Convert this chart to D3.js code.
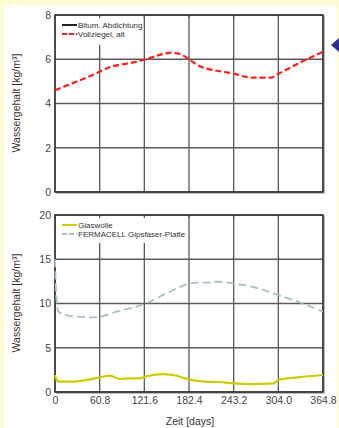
<!DOCTYPE html>
<html>
<head>
<meta charset="utf-8">
<script src="https://cdn.jsdelivr.net/npm/d3@7"></script>
<style>
  html, body { margin: 0; padding: 0; background: #fdfbd2; }
  svg { display: block; font-family: "Liberation Sans", Arial, sans-serif; }
</style>
</head>
<body>
<svg id="chart" width="339" height="428"></svg>
<script>
// x axis ticks (days)
var xTicks = [0, 60.8, 121.6, 182.4, 243.2, 304.0, 364.8];

// top chart: Vollziegel, alt
var topTicks = [0, 2, 4, 6, 8];
var topNames = ["Bitum. Abdichtung", "Vollziegel, alt"];
var vollziegelDays = [0, 15, 30, 45, 60.8, 75, 90, 105, 121.6, 135, 145, 158, 170, 182.4, 195, 205, 222, 243.2, 260, 270, 294, 304, 318, 331, 348, 364.8];
var vollziegelVals = [4.6, 4.8, 5.0, 5.2, 5.44, 5.65, 5.76, 5.85, 5.98, 6.12, 6.22, 6.3, 6.24, 6.0, 5.72, 5.59, 5.47, 5.35, 5.2, 5.17, 5.17, 5.34, 5.58, 5.81, 6.08, 6.34];

// bottom chart: Glaswolle + FERMACELL
var botTicks = [0, 5, 10, 15, 20];
var botNames = ["Glaswolle", "FERMACELL Gipsfaser-Platte"];
var fermDays = [0, 2, 5, 20, 47.6, 60.8, 84, 121.6, 152, 177, 191, 204, 222, 243, 268, 304, 331, 364.8];
var fermVals = [15, 10.5, 9.07, 8.6, 8.44, 8.5, 9.07, 9.94, 11.15, 12.1, 12.35, 12.35, 12.46, 12.28, 11.9, 10.96, 10.2, 9.07];
var glasDays = [0, 2, 5, 20, 47.6, 60.8, 75, 88, 102, 115.7, 121.6, 147, 166, 177, 190.6, 204, 222, 243, 268, 297, 306, 331, 364.8];
var glasVals = [1.92, 1.4, 1.17, 1.17, 1.43, 1.66, 1.84, 1.47, 1.54, 1.54, 1.73, 2.03, 1.84, 1.54, 1.28, 1.17, 1.13, 0.98, 0.9, 0.98, 1.43, 1.66, 1.92];

var svg = d3.select("#chart");

// white panel on the yellow page
svg.append("rect").attr("x", 4).attr("y", 5).attr("width", 333).attr("height", 423).attr("fill", "#ffffff");

var left = 55, right = 323;
var x = d3.scaleLinear().domain([0, 364.8]).range([left, right]);

function panel(top, bottom, ymax, yTicks, series, legendW, legendH) {
  var y = d3.scaleLinear().domain([0, ymax]).range([bottom, top]);
  var g = svg.append("g");

  // grid
  g.selectAll(".hg").data(yTicks).enter().append("line")
    .attr("x1", left).attr("x2", right)
    .attr("y1", function(d) { return y(d); }).attr("y2", function(d) { return y(d); })
    .attr("stroke", "#5a5a5a").attr("stroke-width", 1.3);
  g.selectAll(".vg").data(xTicks).enter().append("line")
    .attr("x1", function(d) { return x(d); }).attr("x2", function(d) { return x(d); })
    .attr("y1", top).attr("y2", bottom)
    .attr("stroke", "#5a5a5a").attr("stroke-width", 1.3);

  // legend box covers the grid
  g.append("rect").attr("x", left + 1).attr("y", top + 1)
    .attr("width", legendW).attr("height", legendH).attr("fill", "#fff");
  // small inner ticks on top edge
  g.selectAll(".tt").data(xTicks).enter().append("line")
    .attr("x1", function(d) { return x(d); }).attr("x2", function(d) { return x(d); })
    .attr("y1", top).attr("y2", top + 3)
    .attr("stroke", "#5a5a5a").attr("stroke-width", 1.3);

  // frame + light shadow
  g.append("rect").attr("x", left).attr("y", top).attr("width", right - left).attr("height", bottom - top)
    .attr("fill", "none").attr("stroke", "#333").attr("stroke-width", 1.5);
  g.append("line").attr("x1", right + 1.5).attr("x2", right + 1.5).attr("y1", top + 1).attr("y2", bottom + 1.5)
    .attr("stroke", "#bbb").attr("stroke-width", 1);
  g.append("line").attr("x1", left + 1).attr("x2", right + 1.5).attr("y1", bottom + 1.5).attr("y2", bottom + 1.5)
    .attr("stroke", "#bbb").attr("stroke-width", 1);

  // y axis labels
  var yAxis = d3.axisLeft(y).tickValues(yTicks).tickSize(0).tickPadding(4);
  var ya = g.append("g").attr("transform", "translate(" + left + ",0)").call(yAxis);
  ya.select(".domain").remove();
  ya.selectAll("text").attr("font-size", 10.5).attr("fill", "#444")
    .attr("font-family", "'Liberation Sans', Arial, sans-serif");

  // series
  series.forEach(function(s) {
    var pts = s.days.map(function(d, i) { return [d, s.vals[i]]; });
    var line = d3.line().x(function(d) { return x(d[0]); }).y(function(d) { return y(d[1]); })
      .curve(d3.curveMonotoneX);
    g.append("path").datum(pts).attr("d", line)
      .attr("fill", "none").attr("stroke", s.color).attr("stroke-width", s.width)
      .attr("stroke-dasharray", s.dash || null);
  });

  var lg = g.append("g").attr("transform", "translate(" + (left + 7) + "," + (top + 10) + ")");
  return lg;
}

function legend(lg, items) {
  items.forEach(function(it, i) {
    var row = lg.append("g").attr("transform", "translate(0," + (i * 9) + ")");
    row.append("line").attr("x1", 0).attr("x2", 15).attr("y1", 0).attr("y2", 0)
      .attr("stroke", it.color).attr("stroke-width", 2)
      .attr("stroke-dasharray", it.dash ? "5,2" : null);
    row.append("text").attr("x", 16).attr("y", 3).attr("font-size", 8).attr("fill", "#333")
      .text(it.name);
  });
}

var topLg = panel(15, 192, 8, topTicks, [
  { days: vollziegelDays, vals: vollziegelVals, color: "#ff1e1e", width: 2.2, dash: "6,3" }
], 86, 29);
legend(topLg, [
  { name: topNames[0], color: "#222" },
  { name: topNames[1], color: "#ff1e1e", dash: true }
]);

var botLg = panel(215, 392, 20, botTicks, [
  { days: fermDays, vals: fermVals, color: "#a9c2ba", width: 1.8, dash: "8,4" },
  { days: glasDays, vals: glasVals, color: "#cccc00", width: 2.2 }
], 128, 27);
legend(botLg, [
  { name: botNames[0], color: "#cccc00" },
  { name: botNames[1], color: "#a9c2ba", dash: true }
]);

// x axis labels under bottom chart
var xAxis = d3.axisBottom(x).tickValues(xTicks).tickSize(0).tickPadding(5)
  .tickFormat(function(d) { return d === 0 ? "0" : d3.format(".1f")(d); });
var xa = svg.append("g").attr("transform", "translate(0,392)").call(xAxis);
xa.select(".domain").remove();
xa.selectAll("text").attr("font-size", 10.5).attr("fill", "#444")
  .attr("font-family", "'Liberation Sans', Arial, sans-serif");

// axis titles
svg.append("text").attr("x", 190).attr("y", 425).attr("text-anchor", "middle")
  .attr("font-size", 10.5).attr("fill", "#333").text("Zeit [days]");
[103, 303].forEach(function(cy) {
  svg.append("text").attr("transform", "translate(20," + cy + ") rotate(-90)")
    .attr("text-anchor", "middle").attr("font-size", 10.5).attr("fill", "#333")
    .text("Wassergehalt [kg/m³]");
});

// blue pointer arrow at right
svg.append("path").attr("d", "M331,45 L339,38 L339,52 Z").attr("fill", "#2e2e8c");
</script>
</body>
</html>
